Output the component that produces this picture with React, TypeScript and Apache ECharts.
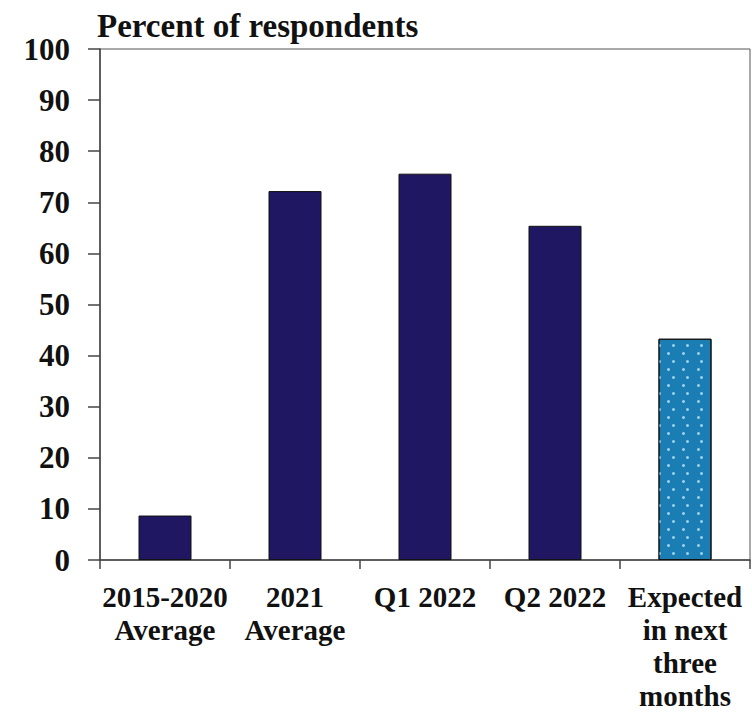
import React, { useEffect, useRef } from "react";
import * as echarts from "echarts";

const categories = ["2015-2020\nAverage", "2021\nAverage", "Q1 2022", "Q2 2022", "Expected\nin next\nthree\nmonths"];
const values = [8.7, 72.2, 75.6, 65.4, 43.3];
const yTicks = { min: 0, max: 100, interval: 10 };
const titleText = "Percent of respondents";

const FONT = '"Liberation Serif", "Times New Roman", serif';

export default function App() {
  const ref = useRef<HTMLDivElement>(null);
  useEffect(() => {
    if (!ref.current) return;
    const chart = echarts.init(ref.current, undefined, { renderer: "svg" });
    const data = values.map((v, i) =>
      i === values.length - 1
        ? {
            value: v,
            itemStyle: {
              color: "#1a7db4",
              borderColor: "#111",
              borderWidth: 1,
              decal: {
                symbol: "circle",
                symbolSize: 1,
                color: "#9ad2ec",
                dashArrayX: [[2.2, 10.8], [0, 6.5, 2.2, 4.3]],
                dashArrayY: [2.2, 4.1],
                rotation: 0,
              },
            },
          }
        : { value: v }
    );
    chart.setOption({
      animation: false,
      textStyle: { fontFamily: FONT },
      title: {
        text: titleText,
        left: 92,
        top: 4,
        textStyle: { fontFamily: FONT, fontSize: 33, fontWeight: "bold", color: "#111" },
      },
      grid: {
        left: 100,
        right: 2,
        top: 49,
        bottom: 148,
        show: true,
        borderColor: "#555",
        borderWidth: 1,
        backgroundColor: "transparent",
      },
      xAxis: {
        type: "category",
        data: categories,
        axisLine: { show: true, lineStyle: { color: "#444", width: 1.5 } },
        axisTick: { show: true, length: 9, lineStyle: { color: "#444", width: 1.5 } },
        axisLabel: {
          interval: 0,
          margin: 20,
          fontFamily: FONT,
          fontSize: 29,
          fontWeight: "bold",
          color: "#111",
          lineHeight: 33,
        },
      },
      yAxis: {
        type: "value",
        min: yTicks.min,
        max: yTicks.max,
        interval: yTicks.interval,
        splitLine: { show: false },
        axisLine: { show: true, lineStyle: { color: "#444", width: 1.5 } },
        axisTick: { show: true, length: 12, lineStyle: { color: "#444", width: 1.5 } },
        axisLabel: {
          margin: 30,
          fontFamily: FONT,
          fontSize: 31,
          fontWeight: "bold",
          color: "#111",
        },
      },
      series: [
        {
          type: "bar",
          data,
          barWidth: 53,
          itemStyle: { color: "#1f1761", borderColor: "#111", borderWidth: 1 },
        },
      ],
    });
    return () => chart.dispose();
  }, []);
  return (
    <div
      ref={ref}
      style={{ position: "absolute", left: 0, top: 0, width: 752, height: 712, background: "#fff" }}
    />
  );
}
